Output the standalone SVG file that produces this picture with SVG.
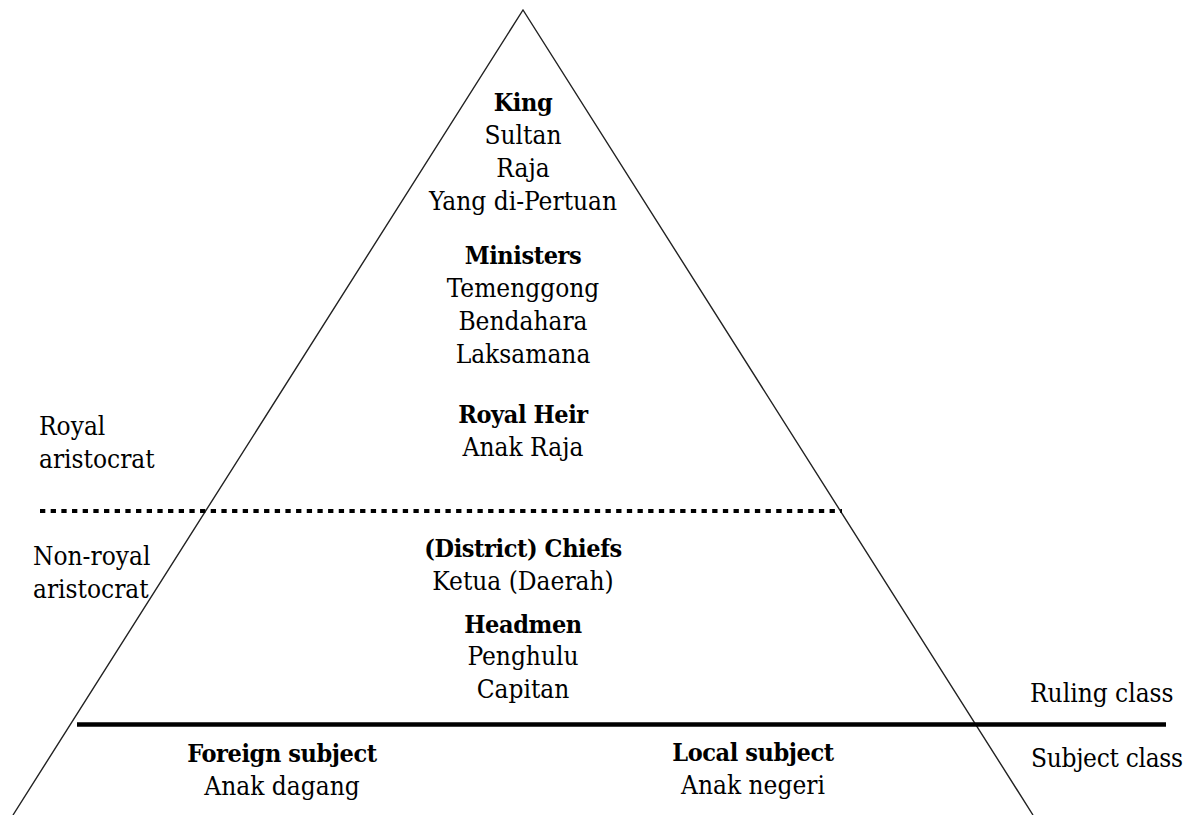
<svg xmlns="http://www.w3.org/2000/svg" width="1191" height="815" viewBox="0 0 1191 815">
<style>
text{font-family:'DejaVu Serif Condensed','DejaVu Serif',serif;font-stretch:condensed;font-size:26px;fill:#000}
.c{text-anchor:middle}
.b{font-weight:bold;font-size:25px;letter-spacing:-0.4px}
.edge{stroke:#222;stroke-width:1.4;fill:none}
</style>
<rect width="1191" height="815" fill="#fff"/>
<g id="connectors">
<path class="edge" d="M13 815 L523 10 L1033 815"/>
<line x1="40" y1="511" x2="842" y2="511" stroke="#000" stroke-width="4" stroke-dasharray="5.3 5.37"/>
<line x1="77" y1="724.5" x2="1166" y2="724.5" stroke="#000" stroke-width="4.5"/>
</g>
<g id="king">
<text x="523" y="111" class="c b">King</text>
<text x="523" y="144" class="c">Sultan</text>
<text x="523" y="177" class="c">Raja</text>
<text x="523" y="210" class="c">Yang di-Pertuan</text>
</g>
<g id="ministers">
<text x="523" y="264" class="c b">Ministers</text>
<text x="523" y="297" class="c">Temenggong</text>
<text x="523" y="330" class="c">Bendahara</text>
<text x="523" y="363" class="c">Laksamana</text>
</g>
<g id="royal-heir">
<text x="523" y="423" class="c b">Royal Heir</text>
<text x="523" y="456" class="c">Anak Raja</text>
</g>
<g id="chiefs">
<text x="523" y="557" class="c b">(District) Chiefs</text>
<text x="523" y="590" class="c">Ketua (Daerah)</text>
</g>
<g id="headmen">
<text x="523" y="633" class="c b">Headmen</text>
<text x="523" y="665" class="c">Penghulu</text>
<text x="523" y="698" class="c">Capitan</text>
</g>
<g id="foreign-subject">
<text x="282" y="762" class="c b">Foreign subject</text>
<text x="282" y="795" class="c">Anak dagang</text>
</g>
<g id="local-subject">
<text x="753" y="761" class="c b">Local subject</text>
<text x="753" y="794" class="c">Anak negeri</text>
</g>
<g id="royal-aristocrat">
<text x="39" y="435">Royal</text>
<text x="39" y="468">aristocrat</text>
</g>
<g id="non-royal-aristocrat">
<text x="33" y="565">Non-royal</text>
<text x="33" y="598">aristocrat</text>
</g>
<g id="ruling-class">
<text x="1030" y="702">Ruling class</text>
</g>
<g id="subject-class">
<text x="1031" y="767" letter-spacing="-0.3">Subject class</text>
</g>
</svg>
